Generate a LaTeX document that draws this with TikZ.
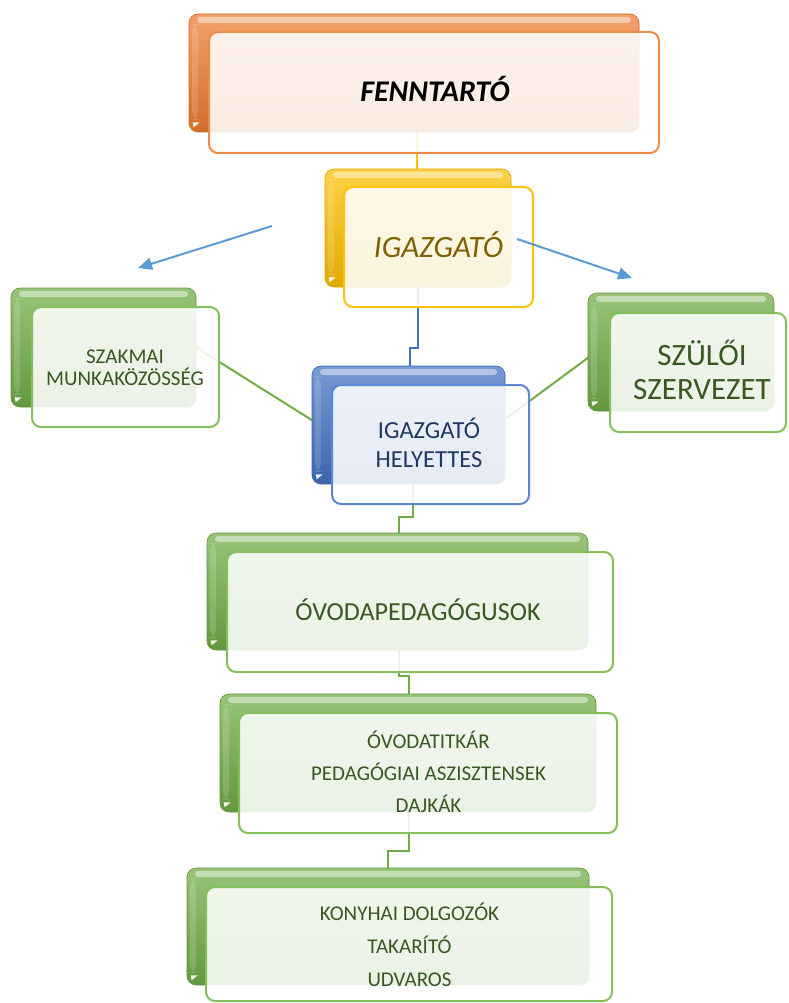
\documentclass[tikz,border=0pt]{standalone}
\usepackage{fontspec}
\setmainfont{Carlito}
\usetikzlibrary{arrows.meta,calc}
\pgfdeclarelayer{bg}
\pgfsetlayers{bg,main}
\definecolor{orgbase}{HTML}{EE7C30}
\definecolor{orgedge}{HTML}{F08A48}
\definecolor{ylwbase}{HTML}{FFC000}
\definecolor{ylwedge}{HTML}{FFC20A}
\definecolor{grnbase}{HTML}{70AD47}
\definecolor{grnedge}{HTML}{84BF5C}
\definecolor{blubase}{HTML}{4472C4}
\definecolor{bluedge}{HTML}{5B86D0}
\definecolor{arrowblue}{HTML}{5B9BD5}
\definecolor{txtgold}{HTML}{7F6000}
\definecolor{txtnavy}{HTML}{203864}
\definecolor{txtgreen}{HTML}{385723}
\newcommand\orgbx[6]{\node[#6, minimum width={#4-#2}, minimum height={#5-#3}] (#1) at ({(#2+#4)/2},{(#3+#5)/2}) {};}
\newcommand\curlmark[1]{\fill[white,opacity=0.9] ([xshift=4pt,yshift=10pt]#1.south west) -- ([xshift=11pt,yshift=10pt]#1.south west) -- ([xshift=5pt,yshift=5pt]#1.south west) -- cycle;}
\tikzset{
  backbox/.style={rectangle, inner sep=0pt, rounded corners=9pt, draw=#1!85!black, line width=0.6pt,
    top color=#1!72!white, middle color=#1!96!white, bottom color=#1!88!black,
    path picture={\fill[white,opacity=0.45,rounded corners=3pt]
      ([xshift=8pt,yshift=-3pt]path picture bounding box.north west) rectangle
      ([xshift=-8pt,yshift=-9pt]path picture bounding box.north east);
      \fill[white,opacity=0.15]
      ([xshift=3pt,yshift=-10pt]path picture bounding box.north west) rectangle
      ([xshift=9pt,yshift=12pt]path picture bounding box.south west);}},
  frontbox/.style={rectangle, inner sep=0pt, rounded corners=9pt, draw=#1, line width=2pt,
    fill=white, fill opacity=0.87, draw opacity=1},
  conn/.style={line width=2pt, line cap=rect},
  lbl/.style={anchor=base, inner sep=0pt, align=center},
  pointer/.style={draw=arrowblue, line width=2pt, -{Triangle[length=14pt,width=12pt]}}
}
\begin{document}
\begin{tikzpicture}[x=1pt,y=-1pt]
\useasboundingbox (0,0) rectangle (789,1003);
% back boxes
\orgbx{b1}{189}{14}{639}{132}{backbox=orgbase}
\orgbx{b2}{325}{169}{511}{287}{backbox=ylwbase}
\orgbx{b3}{11}{288}{196}{407}{backbox=grnbase}
\orgbx{b4}{312}{366}{505}{484}{backbox=blubase}
\orgbx{b5}{588}{293}{774}{411}{backbox=grnbase}
\orgbx{b6}{207}{533}{588}{650}{backbox=grnbase}
\orgbx{b7}{220}{694}{596}{812}{backbox=grnbase}
\orgbx{b8}{187}{868}{589}{985}{backbox=grnbase}
\curlmark{b1}\curlmark{b2}\curlmark{b3}\curlmark{b4}
\curlmark{b5}\curlmark{b6}\curlmark{b7}\curlmark{b8}
% front boxes
\orgbx{f1}{209}{32}{659}{153}{frontbox=orgedge}
\orgbx{f2}{344}{187}{533}{307}{frontbox=ylwedge}
\orgbx{f3}{32}{307}{219}{427}{frontbox=grnedge}
\orgbx{f4}{332}{385}{529}{504}{frontbox=bluedge}
\orgbx{f5}{610}{313}{786}{432}{frontbox=grnedge}
\orgbx{f6}{227}{552}{613}{672}{frontbox=grnedge}
\orgbx{f7}{239}{713}{617}{833}{frontbox=grnedge}
\orgbx{f8}{206}{887}{612}{1001}{frontbox=grnedge}
% connectors (behind)
\begin{pgfonlayer}{bg}
\draw[conn, draw=ylwbase] (417,0 |- b1.south) -- (417,0 |- b2.north);
\draw[conn, draw=blubase] (418,0 |- b2.south) -- (418,348) -- (410,348) -- (410,0 |- b4.north);
\draw[conn, draw=grnbase] (b3.east) -- ([yshift=5pt]b4.west);
\draw[conn, draw=grnbase] ([yshift=6pt]b4.east) -- ([yshift=-6pt]b5.west);
\draw[conn, draw=grnbase] (413,0 |- b4.south) -- (413,517) -- (399,517) -- (399,0 |- b6.north);
\draw[conn, draw=grnbase] (399,0 |- b6.south) -- (399,676) -- (409,676) -- (409,0 |- b7.north);
\draw[conn, draw=grnbase] (409,0 |- b7.south) -- (409,851) -- (388,851) -- (388,0 |- b8.north);
\end{pgfonlayer}
% texts
\node[lbl, font=\fontsize{30}{36}\selectfont\bfseries\itshape, text=black] (t1) at (435,101.5) {FENNTARTÓ};
\node[lbl, font=\fontsize{31}{36}\selectfont\itshape, text=txtgold] (t2) at (438.5,257) {IGAZGATÓ};
\node[lbl, font=\fontsize{21}{24}\selectfont, text=txtgreen] (t3a) at (125,363) {SZAKMAI};
\node[lbl, font=\fontsize{21}{24}\selectfont, text=txtgreen] (t3b) at (125,385) {MUNKAKÖZÖSSÉG};
\node[lbl, font=\fontsize{24.5}{28}\selectfont, text=txtnavy] (t4a) at (429,438) {IGAZGATÓ};
\node[lbl, font=\fontsize{24.5}{28}\selectfont, text=txtnavy] (t4b) at (429,467) {HELYETTES};
\node[lbl, font=\fontsize{31}{34}\selectfont, text=txtgreen] (t5a) at (702,365) {SZÜLŐI};
\node[lbl, font=\fontsize{31}{34}\selectfont, text=txtgreen] (t5b) at (702,399) {SZERVEZET};
\node[lbl, font=\fontsize{26}{30}\selectfont, text=txtgreen] (t6) at (418,620) {ÓVODAPEDAGÓGUSOK};
\node[lbl, font=\fontsize{21}{24}\selectfont, text=txtgreen] (t7a) at (428.5,748) {ÓVODATITKÁR};
\node[lbl, font=\fontsize{21}{24}\selectfont, text=txtgreen] (t7b) at (428.5,780) {PEDAGÓGIAI ASZISZTENSEK};
\node[lbl, font=\fontsize{21}{24}\selectfont, text=txtgreen] (t7c) at (428.5,812) {DAJKÁK};
\node[lbl, font=\fontsize{21}{24}\selectfont, text=txtgreen] (t8a) at (409.5,920) {KONYHAI DOLGOZÓK};
\node[lbl, font=\fontsize{21}{24}\selectfont, text=txtgreen] (t8b) at (409.5,953) {TAKARÍTÓ};
\node[lbl, font=\fontsize{21}{24}\selectfont, text=txtgreen] (t8c) at (409.5,986) {UDVAROS};
% blue pointers
\coordinate (p1s) at (272,226);
\coordinate (p1e) at (138,268);
\coordinate (p2s) at (517,239);
\coordinate (p2e) at (632,278);
\draw[pointer] (p1s) -- (p1e);
\draw[pointer] (p2s) -- (p2e);
\end{tikzpicture}
\end{document}
